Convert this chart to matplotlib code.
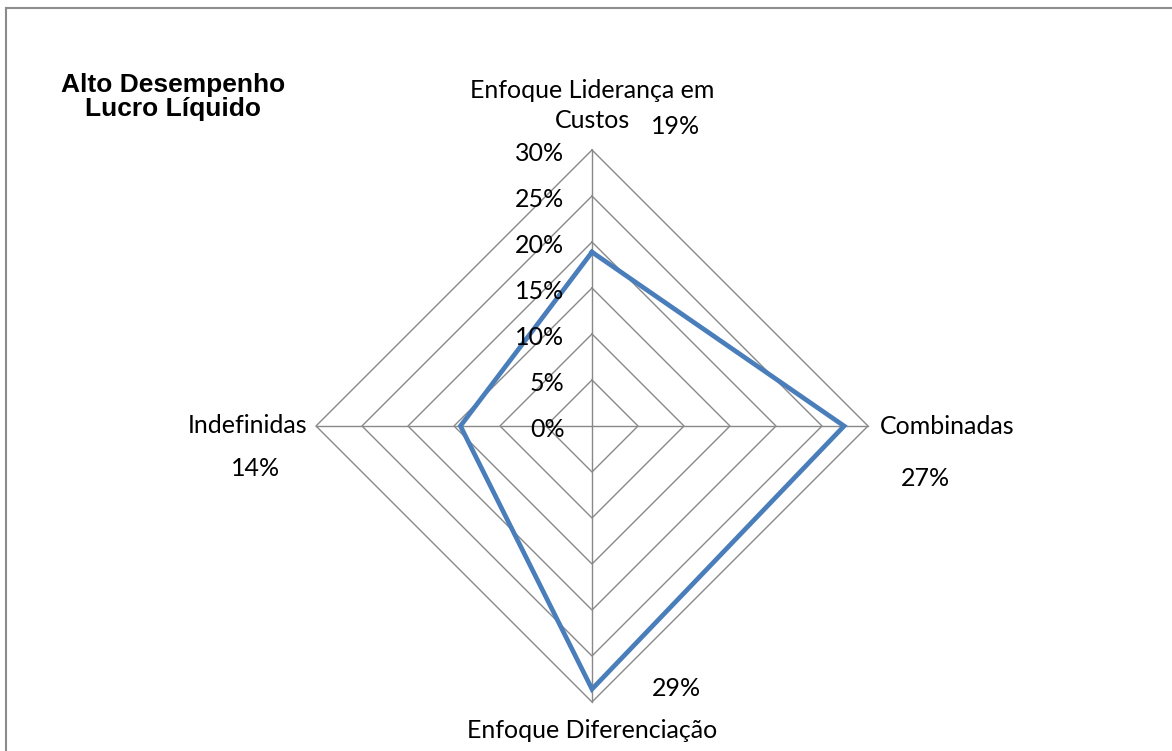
import matplotlib
matplotlib.use('Agg')
import matplotlib.pyplot as plt
from matplotlib.lines import Line2D
import numpy as np

# strategy categories, clockwise from the top spoke
categories = ['Enfoque Liderança em\nCustos', 'Combinadas', 'Enfoque Diferenciação', 'Indefinidas']
values = [18.9, 27.4, 28.6, 14.3]  # percent
ring_levels = [0, 5, 10, 15, 20, 25, 30]
title = 'Alto Desempenho\nLucro Líquido'

W, H = 1172, 751
cx, cy = 592, 426          # pixel position of the chart centre
px_per_unit = 276 / 30.0   # radius of the 30% ring in pixels

grid_color = '#898989'
line_color = '#4A7EBB'
label_font = 'Lato'
fs = 18

fig = plt.figure(figsize=(W / 100, H / 100), dpi=100)
ax = fig.add_axes([0, 0, 1, 1])
ax.set_xlim(-cx / px_per_unit, (W - cx) / px_per_unit)
ax.set_ylim(-(H - cy) / px_per_unit, cy / px_per_unit)
ax.axis('off')

angles = np.deg2rad([90, 0, -90, 180])
dx, dy = np.cos(angles), np.sin(angles)
rmax = ring_levels[-1]

# diamond grid rings and spokes
for r in ring_levels[1:]:
    ax.plot(np.append(r * dx, r * dx[0]), np.append(r * dy, r * dy[0]),
            color=grid_color, lw=1.0, zorder=1)
for i in range(len(angles)):
    ax.plot([0, rmax * dx[i]], [0, rmax * dy[i]], color=grid_color, lw=1.0, zorder=1)

# radial tick labels along the top spoke
for r in ring_levels:
    ax.text(-3.0, r - 0.35, '{}%'.format(r), ha='right', va='center',
            fontsize=fs, family=label_font, color='black', zorder=3)

# data series
v = np.array(values)
ax.plot(np.append(v * dx, v[0] * dx[0]), np.append(v * dy, v[0] * dy[0]),
        color=line_color, lw=3.4, solid_joinstyle='miter', zorder=2)

# category names and value labels, offsets in pixels from each spoke tip
cat_offsets = [(0, 60, 'center'), (12, 0, 'left'), (0, -29, 'center'), (-9, 0, 'right')]
val_offsets = [(84, 24), (57, -53), (84, 13), (-60, -43)]
line_step = 30  # pixels between wrapped label lines
for i, (name, val) in enumerate(zip(categories, values)):
    tip = (rmax * dx[i], rmax * dy[i])
    ox, oy, ha = cat_offsets[i]
    for j, part in enumerate(name.split('\n')):
        ax.annotate(part, xy=tip, xytext=(ox * 0.72, (oy - j * line_step) * 0.72),
                    textcoords='offset points', ha=ha, va='center',
                    fontsize=fs, family=label_font)
    vx, vy = val_offsets[i]
    ax.annotate('{:.0f}%'.format(val), xy=tip, xytext=(vx * 0.72, vy * 0.72),
                textcoords='offset points', ha='center', va='center',
                fontsize=fs, family=label_font)

fig.text(173 / W, 1 - 97 / H, title, ha='center', va='center', fontsize=19,
         fontweight='bold', family='Liberation Sans', linespacing=1.0)

# chart area border (top and left edges visible)
fig.add_artist(Line2D([6 / W, 1], [1 - 8 / H, 1 - 8 / H], transform=fig.transFigure,
                      color='#8c8c8c', lw=1.5))
fig.add_artist(Line2D([6 / W, 6 / W], [0, 1 - 8 / H], transform=fig.transFigure,
                      color='#8c8c8c', lw=1.5))

fig.savefig('out.png', dpi=100, facecolor='white')
